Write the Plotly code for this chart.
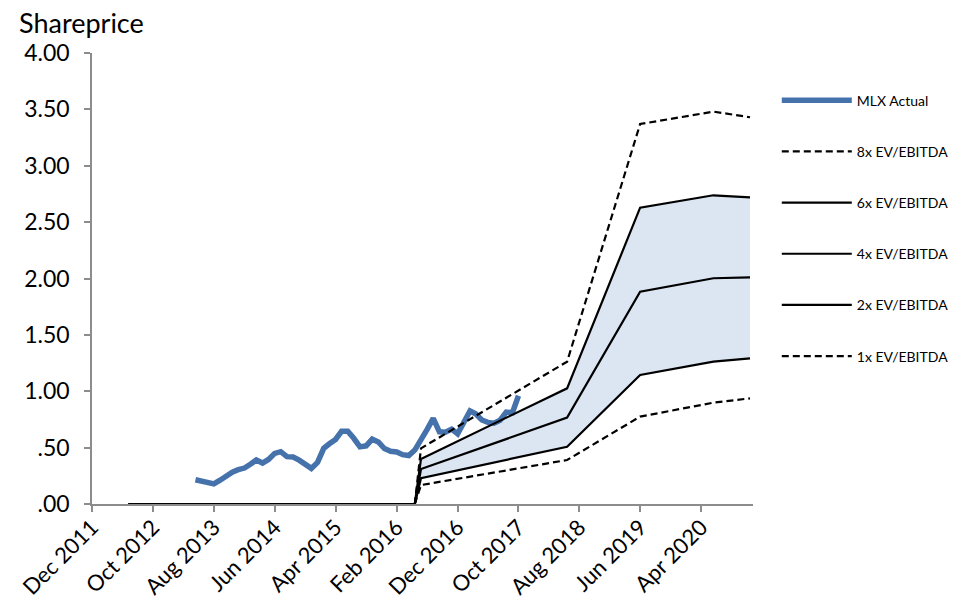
import pandas as pd
import plotly.graph_objects as go

# MLX actual share price, monthly closes (May 2013 - Oct 2017)
actual_start = "2013-05-01"
actual_prices = [
    0.215, 0.204, 0.191, 0.178, 0.211, 0.247, 0.283, 0.304, 0.319, 0.354,
    0.390, 0.363, 0.395, 0.449, 0.464, 0.420, 0.417, 0.389, 0.353, 0.316,
    0.369, 0.494, 0.534, 0.573, 0.645, 0.646, 0.583, 0.507, 0.516, 0.575,
    0.550, 0.492, 0.468, 0.462, 0.438, 0.430, 0.478, 0.565, 0.660, 0.760,
    0.640, 0.637, 0.664, 0.623, 0.728, 0.825, 0.800, 0.745, 0.724, 0.717,
    0.743, 0.815, 0.810, 0.960,
]
actual_dates = pd.date_range(actual_start, periods=len(actual_prices), freq="MS")

# Valuation-implied share price by EV/EBITDA multiple
val_dates = ["2012-06-01", "2016-05-01", "2016-06-01", "2018-06-01",
             "2019-06-01", "2020-06-01", "2020-12-01"]
val_8x = [0, 0, 0.494, 1.262, 3.370, 3.480, 3.430]
val_6x = [0, 0, 0.400, 1.026, 2.628, 2.738, 2.720]
val_4x = [0, 0, 0.310, 0.766, 1.883, 2.002, 2.010]
val_2x = [0, 0, 0.228, 0.508, 1.144, 1.262, 1.292]
val_1x = [0, 0, 0.168, 0.390, 0.775, 0.899, 0.937]

# Axis ticks
x_tickvals = ["2011-12-01", "2012-10-01", "2013-08-01", "2014-06-01",
              "2015-04-01", "2016-02-01", "2016-12-01", "2017-10-01",
              "2018-08-01", "2019-06-01", "2020-04-01"]
x_ticktext = ["Dec 2011", "Oct 2012", "Aug 2013", "Jun 2014", "Apr 2015",
              "Feb 2016", "Dec 2016", "Oct 2017", "Aug 2018", "Jun 2019",
              "Apr 2020"]
y_tickvals = [0, 0.5, 1.0, 1.5, 2.0, 2.5, 3.0, 3.5, 4.0]
y_ticktext = [".00", ".50", "1.00", "1.50", "2.00", "2.50", "3.00", "3.50", "4.00"]

FONT = "Lato"
BLUE = "#4672AC"
AXIS = "#8C8C8C"

fig = go.Figure()

# shaded band between the 2x and 6x multiples (forecast part only)
band_x = val_dates[2:] + val_dates[2:][::-1]
band_y = val_6x[2:] + val_2x[2:][::-1]
fig.add_trace(go.Scatter(
    x=band_x, y=band_y, fill="toself", fillcolor="#DCE6F2",
    line=dict(width=0), mode="lines", hoverinfo="skip", showlegend=False,
))

fig.add_trace(go.Scatter(
    x=actual_dates, y=actual_prices, mode="lines", name="MLX Actual",
    line=dict(color=BLUE, width=5.5), legendgroup="a",
))

series = [
    ("8x EV/EBITDA", val_8x, "7px,4px"),
    ("6x EV/EBITDA", val_6x, "solid"),
    ("4x EV/EBITDA", val_4x, "solid"),
    ("2x EV/EBITDA", val_2x, "solid"),
    ("1x EV/EBITDA", val_1x, "7px,4px"),
]
for i, (name, vals, dash) in enumerate(series):
    fig.add_trace(go.Scatter(
        x=val_dates, y=vals, mode="lines", name=name,
        line=dict(color="black", width=2.2, dash=dash),
        legendgroup="g%d" % i,
    ))

fig.update_layout(
    width=953, height=601,
    margin=dict(l=92, r=200, t=53, b=97, autoexpand=False),
    paper_bgcolor="white", plot_bgcolor="white",
    font=dict(family=FONT, color="black"),
    showlegend=True,
    legend=dict(
        x=1.036, y=0.93, xanchor="left", yanchor="top",
        font=dict(family=FONT, size=14, color="black"),
        itemwidth=70, tracegroupgap=30, bgcolor="rgba(0,0,0,0)",
    ),
    xaxis=dict(
        type="date", range=["2011-12-01", "2020-12-16"],
        tickvals=x_tickvals, ticktext=x_ticktext, tickangle=-45,
        tickfont=dict(size=22), showgrid=False, zeroline=False,
        showline=True, linecolor=AXIS, linewidth=1.5, automargin=False,
        ticks="outside", tickcolor=AXIS, ticklen=6, tickwidth=1.5,
        ticklabelstandoff=-6,
    ),
    yaxis=dict(
        range=[0, 4], tickvals=y_tickvals, ticktext=y_ticktext,
        tickfont=dict(size=23), showgrid=False, zeroline=False,
        showline=True, linecolor=AXIS, linewidth=1.5, automargin=False,
        ticks="outside", tickcolor=AXIS, ticklen=6, tickwidth=1.5,
        ticklabelstandoff=10,
    ),
    annotations=[dict(
        text="Shareprice", xref="paper", yref="paper",
        x=-0.113, y=1, xanchor="left", yanchor="bottom", yshift=12,
        showarrow=False, font=dict(family=FONT, size=27, color="black"),
    )],
)

fig.write_html("out.html")
